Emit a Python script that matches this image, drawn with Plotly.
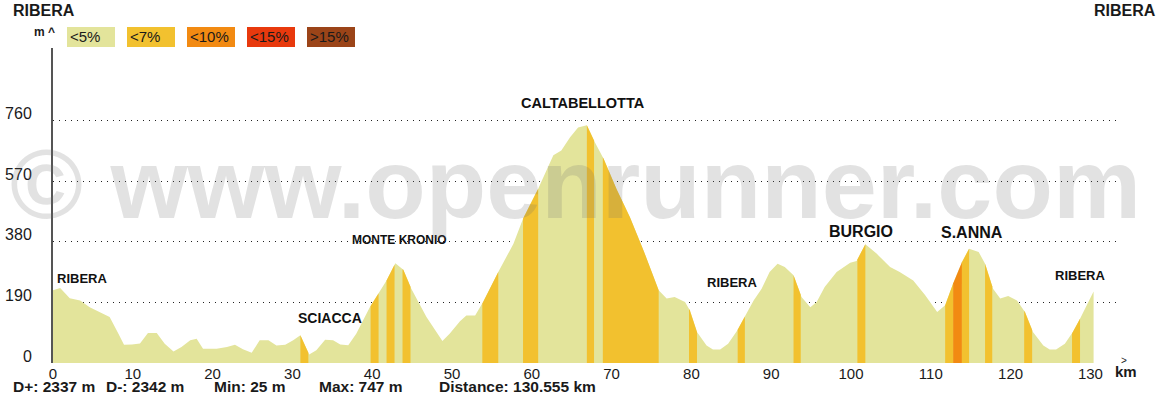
import numpy as np
import plotly.graph_objects as go

# ---------------- data ----------------
km = [0, 0.9, 2.1, 3.4, 4.6, 5.9, 7.1, 8.2, 8.9, 9.9, 10.9, 11.9, 13.0, 14.0, 15.1, 16.1,
      17.2, 18.0, 18.8, 20.5, 21.8, 22.8, 23.8, 24.9, 25.9, 27.0, 28.0, 29.1, 30.1, 31.0,
      32.1, 33.0, 34.1, 35.1, 36.0, 37.0, 38.0, 39.7, 40.8, 41.8, 42.9, 43.9, 44.9, 46.8,
      48.8, 49.7, 51.0, 51.8, 52.9, 53.9, 55.8, 57.7, 58.9, 60.8, 62.7, 63.7, 64.8, 65.8,
      66.9, 67.9, 69.0, 70.6, 72.3, 74.0, 75.9, 76.9, 77.9, 79.2, 79.8, 80.7, 81.9, 82.7,
      83.6, 84.6, 85.7, 86.7, 87.8, 88.8, 89.8, 90.8, 91.7, 92.8, 93.8, 94.9, 95.7, 96.7,
      98.2, 99.9, 100.7, 101.8, 103.2, 104.9, 106.1, 107.8, 109.3, 110.8, 111.8, 112.8,
      113.9, 114.8, 116.0, 116.8, 117.8, 118.7, 119.7, 120.8, 121.8, 122.8, 124.1, 124.9,
      125.7, 126.8, 127.8, 128.7, 130.4]
elev = [228, 235, 203, 196, 175, 158, 144, 92, 57, 58, 61, 94, 94, 60, 36, 50,
        71, 76, 45, 45, 50, 57, 43, 32, 71, 71, 55, 57, 71, 87,
        27, 40, 73, 71, 58, 56, 92, 175, 219, 259, 313, 292, 233, 144,
        69, 92, 131, 149, 149, 191, 285, 374, 452, 546, 651, 666, 708, 738,
        745, 692, 640, 546, 457, 353, 228, 202, 207, 191, 165, 97, 55, 42,
        42, 60, 100, 146, 196, 233, 285, 311, 301, 275, 207, 175, 191, 238,
        285, 314, 320, 372, 343, 301, 285, 259, 212, 160, 181, 249,
        316, 358, 348, 311, 233, 202, 210, 196, 160, 97, 55, 42,
        42, 60, 97, 139, 224]

band_start = [31.0, 39.8, 41.8, 43.8, 53.8, 58.9, 66.9, 68.9, 79.7, 85.8, 92.8, 100.8,
              111.8, 112.8, 113.9, 116.8, 121.7, 127.7]
band_end = [32.0, 40.8, 42.8, 44.8, 55.8, 60.8, 67.8, 75.9, 80.7, 86.7, 93.7, 101.8,
            112.8, 113.9, 114.8, 117.7, 122.7, 128.7]
band_class = ["<7%", "<7%", "<7%", "<7%", "<7%", "<7%", "<7%", "<7%", "<7%", "<7%", "<7%", "<7%",
              "<7%", "<10%", "<7%", "<7%", "<7%", "<7%"]

grade_labels = ["<5%", "<7%", "<10%", "<15%", ">15%"]
grade_colors = ["#E3E49B", "#F2C12F", "#F28A12", "#E8390D", "#9B4418"]

x_ticks = list(range(0, 131, 10))
y_ticks = [0, 190, 380, 570, 760]

places = ["RIBERA", "SCIACCA", "MONTE KRONIO", "CALTABELLOTTA", "RIBERA", "BURGIO", "S.ANNA", "RIBERA"]
place_km = [0.3, 30.5, 37.2, 58.4, 81.7, 97.0, 111.0, 125.3]
place_elev = [265, 140, 385, 815, 252, 412, 408, 275]
place_size = [13, 14, 12, 14.5, 13, 16, 16, 13]

stats = ["D+: 2337 m", "D-: 2342 m", "Min: 25 m", "Max: 747 m", "Distance: 130.555 km"]
stats_px = [11, 104, 212, 317, 437]

# ---------------- layout geometry ----------------
W, H = 1173, 399
L, R, T, B = 53, 53, 48, 36
PW, PH = W - L - R, H - T - B
X_MAX = PW / 7.98
Y_MAX = PH / 0.319
FONT = "Liberation Sans, Arial, Helvetica, sans-serif"


def px(xp, yp):
    return (xp - L) / PW, (H - B - yp) / PH


fig = go.Figure()

# base profile
fig.add_trace(go.Scatter(x=km, y=elev, mode="lines", fill="tozeroy",
                         fillcolor=grade_colors[0], line=dict(width=0, color=grade_colors[0]),
                         hoverinfo="skip", showlegend=False))

# gradient bands
km_a = np.array(km, dtype=float)
el_a = np.array(elev, dtype=float)
for s, e, c in zip(band_start, band_end, band_class):
    inner = [k for k in km if s < k < e]
    xs = [s] + inner + [e]
    ys = list(np.interp(xs, km_a, el_a))
    col = grade_colors[grade_labels.index(c)]
    fig.add_trace(go.Scatter(x=xs, y=ys, mode="lines", fill="tozeroy", fillcolor=col,
                             line=dict(width=0, color=col), hoverinfo="skip", showlegend=False))

annotations = []
shapes = []

# place names
for name, k, el, sz in zip(places, place_km, place_elev, place_size):
    annotations.append(dict(x=k, y=el, xref="x", yref="y", text="<b>%s</b>" % name,
                            showarrow=False, xanchor="left", yanchor="middle",
                            font=dict(family=FONT, size=sz, color="#111")))

# legend boxes
box_left = [67, 127, 187, 247, 307]
for lab, col, bx in zip(grade_labels, grade_colors, box_left):
    x0, y0 = px(bx, 47)
    x1, y1 = px(bx + 48, 27)
    shapes.append(dict(type="rect", xref="paper", yref="paper", x0=x0, x1=x1, y0=y0, y1=y1,
                       fillcolor=col, line=dict(width=0), layer="above"))
    ax, ay = px(bx + 1, 37)
    annotations.append(dict(x=ax, y=ay, xref="paper", yref="paper", text=lab, showarrow=False,
                            xanchor="left", yanchor="middle",
                            font=dict(family=FONT, size=15, color="#1a1a1a")))

# top names
for txt, xp_, anc in [("RIBERA", 11, "left"), ("RIBERA", 1158, "right")]:
    ax, ay = px(xp_, 11)
    annotations.append(dict(x=ax, y=ay, xref="paper", yref="paper", text="<b>%s</b>" % txt,
                            showarrow=False, xanchor=anc, yanchor="middle",
                            font=dict(family=FONT, size=16, color="#1a1a1a")))

# axis unit labels
ax, ay = px(57, 32)
annotations.append(dict(x=ax, y=ay, xref="paper", yref="paper", text="<b>m ^</b>", showarrow=False,
                        xanchor="right", yanchor="middle", font=dict(family=FONT, size=12, color="#1a1a1a")))
ax, ay = px(1113, 372)
annotations.append(dict(x=ax, y=ay, xref="paper", yref="paper", text="<b>km</b>", showarrow=False,
                        xanchor="left", yanchor="middle", font=dict(family=FONT, size=15, color="#1a1a1a")))
ax, ay = px(1124, 360)
annotations.append(dict(x=ax, y=ay, xref="paper", yref="paper", text=">", showarrow=False,
                        xanchor="center", yanchor="middle", font=dict(family=FONT, size=10, color="#1a1a1a")))

# stats
for txt, sx in zip(stats, stats_px):
    ax, ay = px(sx, 386)
    annotations.append(dict(x=ax, y=ay, xref="paper", yref="paper", text="<b>%s</b>" % txt,
                            showarrow=False, xanchor="left", yanchor="middle",
                            font=dict(family=FONT, size=15.5, color="#1a1a1a")))

# watermark
ax, ay = px(575, 183)
annotations.append(dict(x=ax, y=ay, xref="paper", yref="paper", text="<b>© www.openrunner.com</b>",
                        showarrow=False, xanchor="center", yanchor="middle",
                        font=dict(family=FONT, size=99, color="rgba(110,110,110,0.2)")))

fig.update_layout(
    width=W, height=H,
    margin=dict(l=L, r=R, t=T, b=B),
    paper_bgcolor="white", plot_bgcolor="white",
    showlegend=False,
    annotations=annotations, shapes=shapes,
    xaxis=dict(range=[0, X_MAX], tickvals=x_ticks, ticktext=[str(v) for v in x_ticks],
               showgrid=False, zeroline=False, showline=False, ticks="", automargin=False,
               tickfont=dict(family=FONT, size=15, color="#1a1a1a"), fixedrange=True),
    yaxis=dict(range=[0, Y_MAX], tickvals=y_ticks, ticktext=[str(v) for v in y_ticks],
               showgrid=True, gridcolor="#222", gridwidth=1, griddash="1px,5px",
               zeroline=False, showline=True, linecolor="#555", linewidth=2, ticks="",
               automargin=False, ticklabelstandoff=16, ticklabelshift=-7,
               tickfont=dict(family=FONT, size=16, color="#1a1a1a"), fixedrange=True),
)

fig.write_html("out.html", config={"displayModeBar": False},
               post_script="document.body.style.margin='0';document.body.style.overflow='hidden';")
